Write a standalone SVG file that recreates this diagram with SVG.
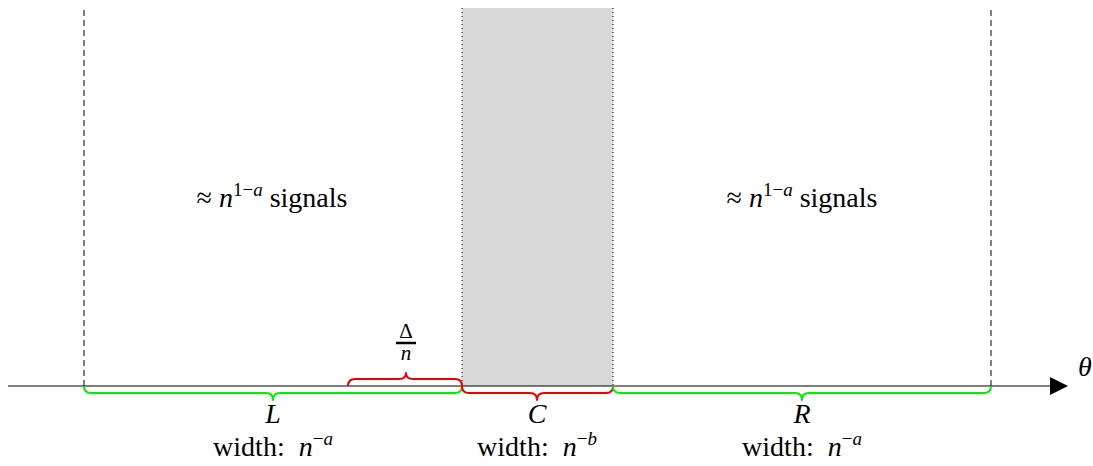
<svg xmlns="http://www.w3.org/2000/svg" width="1093" height="466" viewBox="0 0 1093 466">
<defs>
<style>
.brace{fill:none;stroke-width:2;stroke-linejoin:round}
.g{stroke:#00ee00}
.r{stroke:#ee0000}
.dash{stroke:#000;stroke-width:1;stroke-dasharray:6,4;fill:none}
.dot{stroke:#000;stroke-width:1;stroke-dasharray:1,3;fill:none}
</style>
</defs>
<g id="center-band">
<rect x="462" y="8" width="151" height="378" fill="#d9d9d9"/>
<line class="dot" x1="462" y1="8" x2="462" y2="386"/>
<line class="dot" x1="613" y1="8" x2="613" y2="386"/>
</g>
<g id="boundaries">
<line class="dash" x1="84" y1="10" x2="84" y2="386"/>
<line class="dash" x1="991" y1="10" x2="991" y2="386"/>
</g>
<g id="connectors">
<line x1="8" y1="386" x2="1052" y2="386" stroke="#000" stroke-width="1.2"/>
<path d="M1050,377 L1068,386 L1050,395 Z" fill="#000"/>
</g>
<g id="theta"><text x="1085" y="376" style="font-family:'Liberation Serif',serif !important;font-size:28px;font-style:italic" text-anchor="middle">θ</text></g>
<g id="brace-L">
<path class="brace g" d="M84,386 Q84,393 91,393 L266,393 Q273,393 273,400 Q273,393 280,393 L455,393 Q462,393 462,386"/>
<text x="273" y="423" style="font-family:'Liberation Serif',serif !important;font-size:28px;font-style:italic" text-anchor="middle">L</text>
<text x="273" y="456" style="font-family:'Liberation Serif',serif !important;font-size:28px" text-anchor="middle" xml:space="preserve">width:  <tspan font-style="italic">n</tspan><tspan font-size="19" dy="-11">−<tspan font-style="italic">a</tspan></tspan></text>
</g>
<g id="brace-C">
<path class="brace r" d="M462,386 Q462,393 469,393 L530,393 Q537,393 537,400 Q537,393 544,393 L606,393 Q613,393 613,386"/>
<text x="537" y="423" style="font-family:'Liberation Serif',serif !important;font-size:28px;font-style:italic" text-anchor="middle">C</text>
<text x="537" y="456" style="font-family:'Liberation Serif',serif !important;font-size:28px" text-anchor="middle" xml:space="preserve">width:  <tspan font-style="italic">n</tspan><tspan font-size="19" dy="-11">−<tspan font-style="italic">b</tspan></tspan></text>
</g>
<g id="brace-R">
<path class="brace g" d="M613,386 Q613,393 620,393 L795,393 Q802,393 802,400 Q802,393 809,393 L984,393 Q991,393 991,386"/>
<text x="802" y="423" style="font-family:'Liberation Serif',serif !important;font-size:28px;font-style:italic" text-anchor="middle">R</text>
<text x="802" y="456" style="font-family:'Liberation Serif',serif !important;font-size:28px" text-anchor="middle" xml:space="preserve">width:  <tspan font-style="italic">n</tspan><tspan font-size="19" dy="-11">−<tspan font-style="italic">a</tspan></tspan></text>
</g>
<g id="brace-delta">
<path class="brace r" d="M348,386 Q348,379 355,379 L399,379 Q406,379 406,373 Q406,379 413,379 L455,379 Q462,379 462,386"/>
<text x="406" y="338" style="font-family:'Liberation Serif',serif !important;font-size:21px" text-anchor="middle">Δ</text>
<line x1="396" y1="343" x2="416" y2="343" stroke="#000" stroke-width="2.5"/>
<text x="406" y="360" style="font-family:'Liberation Serif',serif !important;font-size:21px;font-style:italic" text-anchor="middle">n</text>
</g>
<g id="label-left">
<text x="272" y="207" style="font-family:'Liberation Serif',serif !important;font-size:28px" text-anchor="middle">≈ <tspan font-style="italic">n</tspan><tspan font-size="19" dy="-11">1−<tspan font-style="italic">a</tspan></tspan><tspan dy="11"> signals</tspan></text>
</g>
<g id="label-right">
<text x="802" y="207" style="font-family:'Liberation Serif',serif !important;font-size:28px" text-anchor="middle">≈ <tspan font-style="italic">n</tspan><tspan font-size="19" dy="-11">1−<tspan font-style="italic">a</tspan></tspan><tspan dy="11"> signals</tspan></text>
</g>
</svg>
